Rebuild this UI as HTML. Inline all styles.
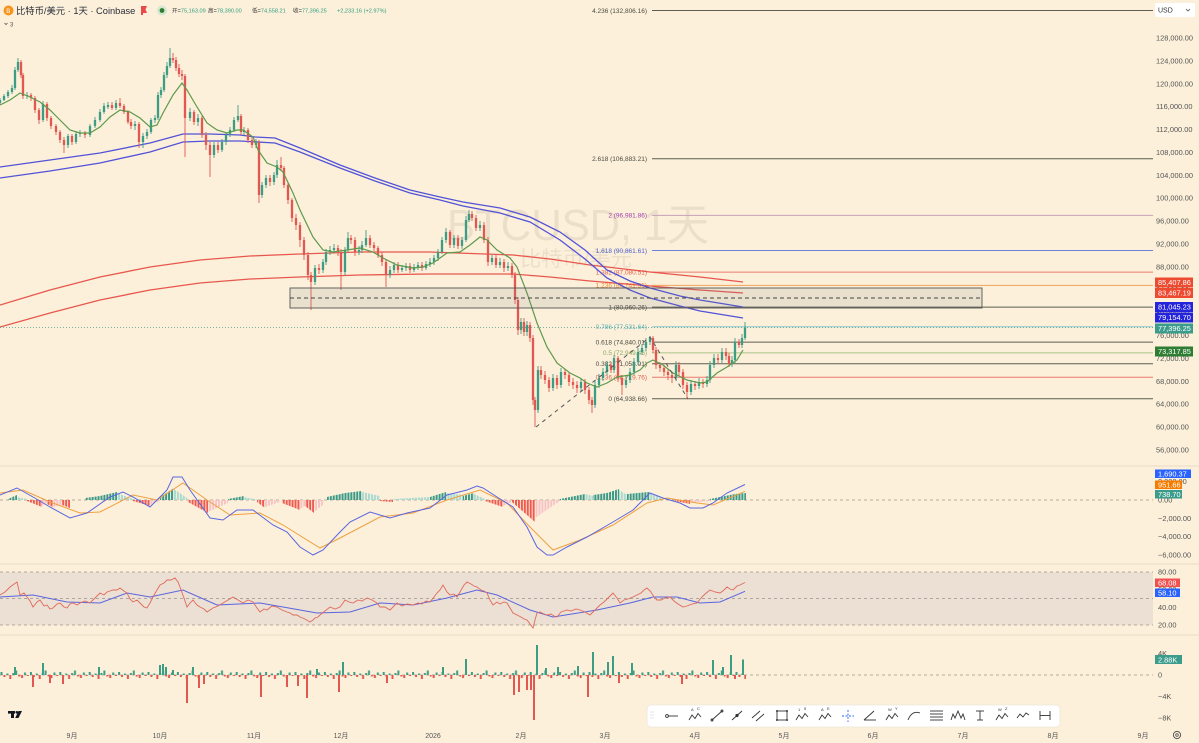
<!DOCTYPE html>
<html><head><meta charset="utf-8">
<style>
html,body{margin:0;padding:0;background:#fcf0da;overflow:hidden;}
svg{display:block;}
text{font-family:"Liberation Sans","Noto Sans CJK SC",sans-serif;}
</style></head>
<body>
<svg width="1199" height="743" viewBox="0 0 1199 743" xmlns="http://www.w3.org/2000/svg">
<defs>
<pattern id="pDT" patternUnits="userSpaceOnUse" x="0.5" y="0" width="2.94" height="100"><rect width="2" height="100" fill="#3a9a88"/></pattern>
<pattern id="pLT" patternUnits="userSpaceOnUse" x="0.5" y="0" width="2.94" height="100"><rect width="2" height="100" fill="#a9d9d1"/></pattern>
<pattern id="pR" patternUnits="userSpaceOnUse" x="0.5" y="0" width="2.94" height="100"><rect width="2" height="100" fill="#ee5a50"/></pattern>
<pattern id="pP" patternUnits="userSpaceOnUse" x="0.5" y="0" width="2.94" height="100"><rect width="2" height="100" fill="#f7c4c6"/></pattern>
<pattern id="pV" patternUnits="userSpaceOnUse" x="0.5" y="665" width="29.4" height="20">
<rect x="0" y="7" width="2" height="3" fill="#3d9c84"/>
<rect x="2.94" y="10" width="2" height="2" fill="#e2574f"/>
<rect x="5.88" y="8.5" width="2" height="1.5" fill="#3d9c84"/>
<rect x="8.82" y="10" width="2" height="4" fill="#e2574f"/>
<rect x="11.76" y="8" width="2" height="2" fill="#3d9c84"/>
<rect x="14.7" y="5.5" width="2" height="4.5" fill="#3d9c84"/>
<rect x="17.64" y="10" width="2" height="1.5" fill="#e2574f"/>
<rect x="20.58" y="10" width="2" height="3" fill="#e2574f"/>
<rect x="23.52" y="7.5" width="2" height="2.5" fill="#3d9c84"/>
<rect x="26.46" y="10" width="2" height="1" fill="#e2574f"/>
</pattern>
</defs>
<rect width="1199" height="743" fill="#fcf0da"/>
<!-- pane separators -->
<g stroke="#e8dcc6" stroke-width="1">
<line x1="0" y1="466" x2="1199" y2="466"/>
<line x1="0" y1="564" x2="1199" y2="564"/>
<line x1="0" y1="635" x2="1199" y2="635"/>
</g>
<!-- RSI band -->
<rect x="0" y="572" width="1153" height="53" fill="#ecdfd4"/>
<g stroke="#9a948a" stroke-width="0.7" stroke-dasharray="3,3" fill="none">
<line x1="0" y1="572" x2="1153" y2="572"/>
<line x1="0" y1="598.5" x2="1153" y2="598.5"/>
<line x1="0" y1="625" x2="1153" y2="625"/>
<line x1="0" y1="500" x2="1153" y2="500"/>
<line x1="0" y1="675" x2="1153" y2="675"/>
</g>
<!-- watermark -->
<text x="447" y="240" font-size="44" fill="#6a5a40" fill-opacity="0.11" textLength="262" lengthAdjust="spacingAndGlyphs">BTCUSD, 1天</text>
<text x="520" y="266" font-size="21" fill="#6a5a40" fill-opacity="0.11" textLength="112" lengthAdjust="spacingAndGlyphs">比特币/美元</text>

<!-- fib lines -->
<g stroke-width="1" fill="none">
<line x1="652" y1="10.5" x2="1153" y2="10.5" stroke="#5d5d50"/>
<line x1="652" y1="158.8" x2="1153" y2="158.8" stroke="#5d5d50"/>
<line x1="652" y1="215.4" x2="1153" y2="215.4" stroke="#c6a3b8"/>
<line x1="652" y1="250.5" x2="1153" y2="250.5" stroke="#6b80d8"/>
<line x1="652" y1="272.1" x2="1153" y2="272.1" stroke="#ea7b6e"/>
<line x1="652" y1="285.4" x2="1153" y2="285.4" stroke="#f3a25a"/>
<line x1="652" y1="307.1" x2="1153" y2="307.1" stroke="#5d5d50"/>
<line x1="652" y1="326.7" x2="1153" y2="326.7" stroke="#8cc8cc"/>
<line x1="652" y1="342.1" x2="1153" y2="342.1" stroke="#5d5d50"/>
<line x1="652" y1="352.9" x2="1153" y2="352.9" stroke="#a9c488"/>
<line x1="652" y1="363.7" x2="1153" y2="363.7" stroke="#5d5d50"/>
<line x1="652" y1="377.2" x2="1153" y2="377.2" stroke="#ea7b6e"/>
<line x1="652" y1="398.8" x2="1153" y2="398.8" stroke="#5d5d50"/>
</g>
<g font-size="6.5" text-anchor="end">
<text x="647" y="12.8" fill="#4a4a40">4.236 (132,806.16)</text>
<text x="647" y="161.1" fill="#4a4a40">2.618 (106,883.21)</text>
<text x="647" y="217.7" fill="#9c3fae">2 (96,981.86)</text>
<text x="647" y="252.8" fill="#4a5fd0">1.618 (90,861.61)</text>
<text x="647" y="274.4" fill="#e06050">1.382 (87,080.51)</text>
<text x="647" y="287.7" fill="#f09030">1.236 (84,741.36)</text>
<text x="647" y="309.4" fill="#4a4a40">1 (80,960.26)</text>
<text x="647" y="329" fill="#5ab0b8">0.786 (77,531.64)</text>
<text x="647" y="344.4" fill="#4a4a40">0.618 (74,840.01)</text>
<text x="647" y="355.2" fill="#8aa860">0.5 (72,949.46)</text>
<text x="647" y="366" fill="#4a4a40">0.382 (71,058.91)</text>
<text x="647" y="379.5" fill="#e06050">0.236 (68,719.76)</text>
<text x="647" y="401.1" fill="#4a4a40">0 (64,938.66)</text>
</g>

<!-- moving averages -->
<g fill="none" stroke-width="1.3">
<polyline stroke="#e8574e" points="0,305 50,290 100,277 150,267 200,260 250,256 300,254 360,252 430,252 513,255 550,259 590,265 650,272 700,277 743,282"/>
<polyline stroke="#e8574e" points="0,327 50,313 100,300 150,290 200,283 250,279 300,277 360,275 430,274 513,274 550,277 590,281 650,286 700,290 743,293"/>
<polyline stroke="#5252d8" points="0,167 50,160 100,153 150,143 183,134 210,134 240,135 255,137 275,138 300,148 340,165 375,178 410,190 440,197 463,202 500,208 530,217 560,232 585,250 607,270 630,281 650,288 680,296 700,300 743,307"/>
<polyline stroke="#5252d8" points="0,178 50,171 100,163 150,152 183,142 210,141 240,141 275,143 300,152 340,168 375,181 410,193 440,200 463,206 500,213 530,222 560,240 585,259 607,278 630,290 650,298 680,306 700,311 743,318"/>
</g>

<!-- candles -->
<g fill="none">
<path stroke="#3d9c84" stroke-width="0.9" d="M0 98V105M4 94V101M8 90V98M12 85V94M15 67V90M18 58V72M27 92V99M43 101V122M68 134V148M76 131V144M80 130V137M90 124V137M95 117V128M100 109V122M104 103V114M108 102V109M116 100V110M135 121V130M143 133V148M147 129V139M151 118V134M155 115V123M158 92V120M161 87V98M164 72V92M167 62V78M170 48V68M190 108V121M198 114V126M214 142V158M222 139V152M226 132V145M230 127V137M234 117V132M238 105V122M244 127V135M256 139V148M262 182V198M266 175V188M274 172V185M277 160V178M315 265V285M323 259V273M326 249V265M330 246V255M334 244V253M345 247V275M348 232V252M359 246V255M362 241V253M366 230V247M390 266V278M394 262V273M402 265V272M406 263V271M414 264V272M418 262V270M426 261V270M430 258V267M434 255V265M438 249V261M442 237V254M446 228V243M454 235V248M462 237V249M466 216V242M469 210V222M480 221V231M492 255V265M500 258V268M508 262V271M521 318V334M527 321V336M538 366V413M553 374V391M561 368V388M581 378V391M595 381V408M599 374V388M603 368V381M607 361V375M614 355V373M626 376V388M630 368V383M634 358V375M638 348V365M642 344V355M646 338V351M650 336V345M676 361V381M691 380V395M699 378V389M707 376V387M710 361V383M714 354V368M722 348V363M732 356V367M735 338V363M742 334V348M745 322V340"/>
<path stroke="#3d9c84" stroke-width="2.3" d="M0 103V100M4 100V96M8 96V92M12 92V88M15 88V70M18 70V62M27 96V95M43 120V104M68 145V136M76 142V134M80 134V133M90 135V126M95 126V120M100 120V112M104 112V106M108 107V105M116 108V103M135 126V124M143 142V136M147 136V132M151 132V120M155 120V118M158 118V95M161 95V90M164 90V75M167 75V66M170 66V58M190 118V112M198 122V118M214 155V145M222 150V142M226 142V135M230 135V130M234 130V120M238 120V116M244 132V130M256 145V142M262 195V185M266 185V178M274 182V175M277 175V165M315 282V268M323 270V262M326 262V252M330 252V250M334 250V248M345 272V250M348 250V238M359 252V250M362 250V245M366 245V238M390 275V270M394 270V265M402 270V268M406 268V266M414 270V267M418 267V265M426 268V264M430 264V262M434 262V258M438 258V252M442 252V240M446 240V232M454 245V238M462 246V240M466 240V220M469 220V214M480 228V225M492 262V258M500 265V262M508 268V266M521 330V322M527 332V325M538 410V370M553 388V378M561 385V372M581 388V382M595 405V385M599 385V378M603 378V372M607 372V365M614 370V358M626 385V380M630 380V372M634 372V362M638 362V352M642 352V348M646 348V342M650 342V338M676 378V365M691 392V384M699 386V382M707 384V380M710 380V365M714 365V358M722 360V352M732 364V360M735 360V342M742 345V338M745 338V327.5"/>
<path stroke="#e2574f" stroke-width="0.9" d="M21 60V78M23 73V99M31 93V101M35 96V113M39 108V124M47 102V121M51 116V129M56 124V135M60 130V143M64 137V153M72 134V145M85 131V138M112 102V110M120 98V108M124 104V114M128 110V124M131 119V129M139 122V148M173 53V63M176 57V71M179 64V77M182 70V80M185 74V157M194 110V125M202 116V138M206 132V150M210 142V177M218 142V153M241 114V135M248 128V143M252 137V148M259 140V203M270 175V186M281 157V171M284 166V188M288 183V204M292 198V222M296 214V230M300 222V247M304 237V260M308 252V280M311 272V310M319 264V274M338 245V256M341 249V290M351 235V244M355 237V256M370 235V248M374 242V251M378 246V258M382 252V266M386 260V287M398 262V273M410 263V273M422 262V271M450 230V248M458 235V249M472 211V221M476 215V231M484 222V243M488 237V266M496 255V268M504 259V272M512 263V278M515 272V304M518 297V335M524 318V336M530 322V342M533 335V405M535 397V427M541 366V379M545 371V384M549 377V392M557 375V389M565 369V379M569 372V386M573 378V389M577 381V393M585 379V394M589 387V404M592 397V413M611 362V373M618 356V382M622 375V395M653 336V353M656 347V369M660 362V372M664 365V376M668 369V380M672 372V383M679 362V376M683 369V389M687 382V399M695 381V390M703 379V388M718 354V364M726 348V360M729 353V367M739 339V348"/>
<path stroke="#e2574f" stroke-width="2.3" d="M21 62V75M23 75V96M31 95V98M35 98V110M39 110V120M47 104V118M51 118V126M56 126V132M60 132V140M64 140V145M72 136V142M85 133V135M112 105V108M120 103V106M124 106V112M128 112V122M131 122V126M139 124V142M173 58V60M176 60V68M179 68V74M182 74V76M185 76V118M194 112V122M202 118V135M206 135V145M210 145V155M218 145V150M241 116V132M248 130V140M252 140V145M259 142V195M270 178V182M281 165V168M284 168V185M288 185V200M292 200V218M296 218V225M300 225V240M304 240V255M308 255V275M311 275V282M319 268V270M338 248V252M341 252V272M351 238V240M355 240V252M370 238V245M374 245V248M378 248V255M382 255V262M386 262V275M398 265V270M410 266V270M422 265V268M450 232V245M458 238V246M472 214V218M476 218V228M484 225V240M488 240V262M496 258V265M504 262V268M512 266V275M515 275V300M518 300V330M524 322V332M530 325V338M533 338V400M535 400V410M541 370V375M545 375V380M549 380V388M557 378V385M565 372V375M569 375V382M573 382V385M577 385V388M585 382V390M589 390V400M592 400V405M611 365V370M618 358V378M622 378V385M653 338V350M656 350V365M660 365V368M664 368V372M668 372V375M672 375V378M679 365V372M683 372V385M687 385V392M695 384V386M703 382V384M718 358V360M726 352V356M729 356V364M739 342V345"/>
</g>
<!-- short EMA -->
<polyline fill="none" stroke="#5e9a4c" stroke-width="1.2" points="0,105 10,100 20,93 30,97 40,102 50,110 60,120 70,130 80,133 90,133 100,127 110,117 120,110 130,112 140,118 150,127 157,125 163,113 173,95 182,83 187,90 197,107 207,123 217,130 227,133 237,130 243,130 253,137 258,150 267,163 277,167 283,172 293,193 300,210 313,237 323,250 333,252 347,250 360,248 373,252 383,258 397,265 413,268 423,267 433,263 447,253 460,252 470,245 480,237 487,240 497,250 510,258 517,267 527,293 537,323 547,347 557,363 570,373 580,378 587,383 597,387 607,383 617,377 630,375 640,370 647,363 653,360 663,365 673,373 687,380 700,383 707,382 717,373 727,367 737,360 743,350"/>

<!-- rectangle zone -->
<rect x="290" y="288" width="692" height="20" fill="#7d8590" fill-opacity="0.15" stroke="#555" stroke-width="0.9"/>
<line x1="290" y1="298" x2="982" y2="298" stroke="#444" stroke-width="0.9" stroke-dasharray="4,3"/>
<!-- dashed trend -->
<polyline points="536,427 650,337 688,399" fill="none" stroke="#555" stroke-width="1" stroke-dasharray="4,4"/>
<!-- last price line -->
<line x1="0" y1="327.5" x2="1153" y2="327.5" stroke="#4a9a8e" stroke-width="0.8" stroke-dasharray="1,2"/>

<!-- MACD histogram -->
<g fill="url(#pDT)">
<polygon points="8,500 8,499 17,495 17,500"/>
<polygon points="85,500 85,498 100,496 117,492 117,500"/>
<polygon points="160,500 160,497 174,488 174,500"/>
<polygon points="228,500 228,499 244,496 244,500"/>
<polygon points="327,500 327,497 345,493 362,491 362,500"/>
<polygon points="430,500 430,497 446,492 446,500"/>
<polygon points="463,500 463,496 474,493 474,500"/>
<polygon points="560,500 560,499 585,494 585,500"/>
<polygon points="593,500 593,495 607,493 619,489 619,500"/>
<polygon points="627,500 627,494 649,492 649,500"/>
<polygon points="710,500 710,499 735,494 746,493 746,500"/>
</g>
<g fill="url(#pLT)">
<polygon points="17,500 17,497 27,499 27,500"/>
<polygon points="117,500 117,493 133,499 133,500"/>
<polygon points="174,500 174,489 187,498 187,500"/>
<polygon points="244,500 244,497 257,499.5 257,500"/>
<polygon points="362,500 362,492 380,496 380,500"/>
<polygon points="393,500 393,499 410,498 430,497 430,500"/>
<polygon points="446,500 446,493 463,495 463,500"/>
<polygon points="474,500 474,494 485,499 485,500"/>
<polygon points="585,500 585,494 593,496 593,500"/>
<polygon points="619,500 619,490 627,495 627,500"/>
<polygon points="649,500 649,492 663,499 663,500"/>
</g>
<g fill="url(#pR)">
<polygon points="27,500 27,501 42,507 42,500"/>
<polygon points="47,500 47,504 53,507 53,500"/>
<polygon points="62,500 62,505 70,508 70,500"/>
<polygon points="133,500 133,501 150,506 150,500"/>
<polygon points="188,500 188,502 208,513 208,500"/>
<polygon points="257,500 257,502 265,508 265,500"/>
<polygon points="282,500 282,503 300,510 300,500"/>
<polygon points="305,500 305,506 314,513 314,500"/>
<polygon points="380,500 380,501 393,502 393,500"/>
<polygon points="485,500 485,501 503,507 503,500"/>
<polygon points="512,500 512,502 535,522 535,500"/>
<polygon points="675,500 675,501 690,504 690,500"/>
</g>
<g fill="url(#pP)">
<polygon points="42,500 42,505 47,503 47,500"/>
<polygon points="53,500 53,507 62,505 62,500"/>
<polygon points="150,500 150,505 160,501 160,500"/>
<polygon points="208,500 208,512 228,503 228,500"/>
<polygon points="265,500 265,507 280,502 280,500"/>
<polygon points="300,500 300,509 305,506 305,500"/>
<polygon points="314,500 314,512 324,504 324,500"/>
<polygon points="503,500 503,506 512,502 512,500"/>
<polygon points="535,500 535,518 560,501 560,500"/>
<polygon points="690,500 690,503 710,501 710,500"/>
</g>
<!-- MACD lines -->
<polyline fill="none" stroke="#f0a040" stroke-width="1" points="0,493 23,490 50,502 80,513 100,512 133,495 157,500 183,483 207,500 230,515 260,513 283,525 320,548 340,538 380,517 413,513 447,500 480,490 507,503 530,527 553,550 580,540 613,525 647,503 667,498 697,503 713,505 745,491.3"/>
<polyline fill="none" stroke="#5a66e0" stroke-width="1" points="0,495 17,488 33,497 50,507 70,518 87,513 110,497 123,492 133,497 150,507 167,490 173,477 182,477 190,490 210,518 223,520 237,510 253,510 273,525 287,532 300,547 313,555 323,550 340,532 350,522 370,512 380,515 390,518 407,513 430,508 447,495 467,490 477,486 483,488 497,497 513,507 527,527 537,547 547,555 553,555 567,547 587,537 613,522 633,510 650,493 663,498 680,503 690,508 703,508 713,503 727,493 745,484.5"/>

<!-- RSI -->
<polyline fill="none" stroke="#5a66e0" stroke-width="1" points="0,597 33,595 67,602 100,603 127,593 150,597 183,590 217,605 260,603 283,607 317,613 350,612 380,603 413,605 447,598 477,590 497,595 530,610 553,617 597,610 630,603 653,597 677,597 700,603 720,602 745,591.3"/>
<polyline fill="none" stroke="#e06a5a" stroke-width="0.9" points="0,595 5,592 10,587 17,582 20,595 24,593 27,597 30,601 33,607 37,602 40,600 44,606 47,605 50,609 53,608 57,604 60,603 64,607 67,608 70,604 73,603 77,605 80,603 85,601 90,603 95,598 100,593 104,595 107,592 110,591 113,590 117,590 120,588 124,591 127,593 130,599 133,602 137,600 140,603 144,607 147,608 150,603 153,597 157,590 160,585 164,583 167,580 171,580 175,578 178,582 180,587 184,598 187,607 190,603 193,600 197,605 200,607 204,609 207,612 210,610 213,608 218,606 223,603 228,600 233,597 238,600 243,603 248,600 253,602 257,608 260,612 264,609 267,610 272,606 277,607 282,610 287,612 290,613 293,615 297,615 300,617 305,619 310,622 313,620 315,618 318,617 320,615 325,611 330,607 335,609 340,607 343,603 345,600 349,602 353,603 358,600 362,601 367,598 372,600 377,603 380,607 385,607 390,610 394,606 397,603 402,606 407,604 413,605 418,603 422,604 426,601 430,602 434,597 437,593 440,590 443,585 447,592 450,595 454,594 457,597 460,592 464,585 467,582 471,584 474,586 477,587 481,590 484,591 487,593 490,600 493,605 497,602 500,604 504,602 507,603 510,608 513,613 517,615 521,617 524,619 527,620 530,624 533,628 535,620 537,613 540,612 544,614 547,615 551,614 554,616 557,617 561,612 564,611 567,610 571,611 576,609 580,610 585,612 590,615 594,611 597,608 600,605 604,602 607,599 610,596 613,593 617,598 620,603 624,600 628,599 633,597 637,595 641,593 644,590 647,588 651,592 654,597 657,600 661,600 665,598 670,597 674,601 678,604 683,607 687,606 692,604 697,603 701,598 705,594 710,590 715,592 720,593 724,590 727,587 730,589 733,590 737,586 740,585 745,582.5"/>

<!-- Volume delta -->
<rect x="0" y="665" width="746" height="20" fill="url(#pV)"/>
<path fill="none" stroke="#3d9c84" stroke-width="2" d="M15 675V667M43 675V663M99 675V667M160 675V665M163 675V664M166 675V667M173 675V670M193 675V667M317 675V669M343 675V662M443 675V667M466 675V659M537 675V645M546 675V668M558 675V667M578 675V666M593 675V652M608 675V662M613 675V656M632 675V663M713 675V660M723 675V667M731 675V655M743 675V659.5"/>
<path fill="none" stroke="#e2574f" stroke-width="2" d="M33 675V687M50 675V683M63 675V684M187 675V703M199 675V688M204 675V684M261 675V697M287 675V687M298 675V686M307 675V698M339 675V692M387 675V683M514 675V695M519 675V692M527 675V690M531 675V690M534 675V720M588 675V697M619 675V683M682 675V684M735 675V679"/>

<!-- right axis labels -->
<g font-size="7.4" fill="#555">
<text x="1156" y="40.5">128,000.00</text>
<text x="1156" y="63.4">124,000.00</text>
<text x="1156" y="86.3">120,000.00</text>
<text x="1156" y="109.2">116,000.00</text>
<text x="1156" y="132">112,000.00</text>
<text x="1156" y="154.9">108,000.00</text>
<text x="1156" y="177.8">104,000.00</text>
<text x="1156" y="200.7">100,000.00</text>
<text x="1156" y="223.6">96,000.00</text>
<text x="1156" y="246.5">92,000.00</text>
<text x="1156" y="269.4">88,000.00</text>
<text x="1156" y="292.3">84,000.00</text>
<text x="1156" y="315.2">80,000.00</text>
<text x="1156" y="338">76,000.00</text>
<text x="1156" y="360.9">72,000.00</text>
<text x="1156" y="383.8">68,000.00</text>
<text x="1156" y="406.7">64,000.00</text>
<text x="1156" y="429.6">60,000.00</text>
<text x="1156" y="452.5">56,000.00</text>
<text x="1158" y="484.2">2,000.00</text>
<text x="1158" y="502.5">0.00</text>
<text x="1158" y="520.8">−2,000.00</text>
<text x="1158" y="539.1">−4,000.00</text>
<text x="1158" y="557.4">−6,000.00</text>
<text x="1158" y="574.5">80.00</text>
<text x="1158" y="592.2">60.00</text>
<text x="1158" y="609.8">40.00</text>
<text x="1158" y="627.5">20.00</text>
<text x="1158" y="656">4K</text>
<text x="1158" y="677.5">0</text>
<text x="1158" y="699">−4K</text>
<text x="1158" y="720.5">−8K</text>
</g>
<!-- tags -->
<g font-size="7.4" fill="#fff">
<rect x="1155" y="277.5" width="38" height="10" fill="#ee4a30"/><text x="1158" y="285.2">85,407.86</text>
<rect x="1155" y="288" width="38" height="10" fill="#ee4a30"/><text x="1158" y="295.7">83,467.19</text>
<rect x="1155" y="302" width="38" height="10" fill="#2424dc"/><text x="1158" y="309.7">81,045.23</text>
<rect x="1155" y="312.5" width="38" height="10" fill="#2424dc"/><text x="1158" y="320.2">79,154.70</text>
<rect x="1155" y="323.5" width="38" height="10" fill="#3c9c8c"/><text x="1158" y="331.2">77,396.25</text>
<rect x="1155" y="346.5" width="38" height="10" fill="#2e7d32"/><text x="1158" y="354.2">73,317.85</text>
<rect x="1155" y="469.5" width="36" height="8.5" fill="#2962ff"/><text x="1158" y="476.5">1,690.37</text>
<rect x="1155" y="480.5" width="27" height="8.5" fill="#f57c00"/><text x="1158" y="487.5">951.66</text>
<rect x="1155" y="490" width="27" height="8.5" fill="#3c9c8c"/><text x="1158" y="497">738.70</text>
<rect x="1155" y="578.5" width="25" height="8.5" fill="#f05050"/><text x="1158" y="585.5">68.08</text>
<rect x="1155" y="588.5" width="25" height="8.5" fill="#2962ff"/><text x="1158" y="595.5">58.10</text>
<rect x="1155" y="655" width="27" height="9" fill="#3c9c8c"/><text x="1158" y="662.3">2.88K</text>
</g>
<!-- USD box -->
<rect x="1155" y="3" width="40" height="14" rx="2" fill="#ffffff"/>
<text x="1158" y="12.6" font-size="7" fill="#333">USD</text>
<polyline points="1186,9 1188,11 1190,9" fill="none" stroke="#555" stroke-width="0.8"/>

<!-- x axis -->
<g font-size="7" fill="#555" text-anchor="middle">
<text x="72" y="738">9月</text>
<text x="160" y="738">10月</text>
<text x="254" y="738">11月</text>
<text x="341" y="738">12月</text>
<text x="433" y="738">2026</text>
<text x="521" y="738">2月</text>
<text x="605" y="738">3月</text>
<text x="695" y="738">4月</text>
<text x="784" y="738">5月</text>
<text x="873" y="738">6月</text>
<text x="963" y="738">7月</text>
<text x="1053" y="738">8月</text>
<text x="1143" y="738">9月</text>
</g>
<circle cx="1177" cy="735" r="3.6" fill="none" stroke="#555" stroke-width="1"/>
<circle cx="1177" cy="735" r="1.3" fill="none" stroke="#555" stroke-width="0.8"/>

<!-- TV logo -->
<g fill="#131722">
<rect x="8" y="711" width="7" height="2.6"/>
<rect x="11" y="711" width="3" height="7"/>
<circle cx="16.8" cy="712.3" r="1.3"/>
<polygon points="18.5,711 22,711 18.5,718 15.2,718"/>
</g>

<!-- header -->
<circle cx="8.5" cy="10.5" r="5" fill="#f7931a"/>
<text x="6.3" y="13" font-size="6" fill="#fff">B</text>
<text x="16" y="14" font-size="9.3" fill="#2a2e39">比特币/美元 · 1天 · Coinbase</text>
<polygon points="141,6 147,6 145.5,9.5 147,13 143,13 143,15 141,15" fill="#e84a4a"/>
<circle cx="162" cy="10.5" r="5" fill="#d4e8d0"/>
<circle cx="162" cy="10.5" r="2.4" fill="#2e7d32"/>
<g font-size="5.6">
<text x="172" y="12.5"><tspan fill="#333">开=</tspan><tspan fill="#2f9e80">75,163.09</tspan></text>
<text x="208" y="12.5"><tspan fill="#333">高=</tspan><tspan fill="#2f9e80">78,390.00</tspan></text>
<text x="252" y="12.5"><tspan fill="#333">低=</tspan><tspan fill="#2f9e80">74,558.21</tspan></text>
<text x="293" y="12.5"><tspan fill="#333">收=</tspan><tspan fill="#2f9e80">77,396.25</tspan></text>
<text x="337" y="12.5" fill="#2f9e80">+2,233.16 (+2.97%)</text>
</g>
<polyline points="4.5,23 6,24.5 7.5,23" fill="none" stroke="#555" stroke-width="0.8"/>
<text x="10" y="26.5" font-size="6" fill="#555">3</text>

<!-- toolbar -->
<rect x="647" y="705" width="413" height="22" rx="4" fill="#ffffff" stroke="#ece6dc" stroke-width="0.8"/>
<g fill="#bbb"><circle cx="651" cy="712" r="0.5"/><circle cx="653" cy="712" r="0.5"/><circle cx="651" cy="715" r="0.5"/><circle cx="653" cy="715" r="0.5"/><circle cx="651" cy="718" r="0.5"/><circle cx="653" cy="718" r="0.5"/></g>
<g fill="none" stroke="#333" stroke-width="0.9">
<circle cx="667" cy="716" r="1.4"/><line x1="668.5" y1="716" x2="678" y2="716"/>
<polyline points="689,720 692,715 695,718.5 698,713.5 701,717"/>
<line x1="712" y1="720" x2="722" y2="711"/><circle cx="712" cy="720" r="1"/><circle cx="722" cy="711" r="1"/>
<line x1="732" y1="720" x2="742" y2="711"/>
<line x1="752" y1="718" x2="760" y2="711"/><line x1="756" y1="721" x2="764" y2="714"/>
<rect x="777" y="711" width="10" height="9"/>
<polyline points="796,720 799,715 802,718.5 805,713.5 808,717"/>
<polyline points="819,720 822,715 825,718.5 828,713.5 831,717"/>
<line x1="864" y1="720" x2="876" y2="720"/><line x1="864" y1="720" x2="874" y2="711"/>
<polyline points="886,720 889,715 892,718.5 895,713.5 898,717"/>
<path d="M908,720 Q912,710 920,713"/>
<line x1="930" y1="711" x2="943" y2="711"/><line x1="930" y1="714" x2="943" y2="714"/><line x1="930" y1="717" x2="943" y2="717"/><line x1="930" y1="720" x2="943" y2="720"/>
<polyline points="951,720 953,714 955,718 958,711 961,718 963,714 965,720"/>
<line x1="980" y1="711" x2="980" y2="720"/><line x1="976" y1="711" x2="984" y2="711"/><line x1="977" y1="720" x2="983" y2="720"/>
<polyline points="996,720 999,715 1002,718.5 1005,713.5 1008,717"/>
<polyline points="1017,718 1020,714 1023,717 1026,713 1029,715"/>
<line x1="1040" y1="711" x2="1040" y2="720"/><line x1="1050" y1="711" x2="1050" y2="720"/><line x1="1040" y1="715.5" x2="1050" y2="715.5"/>
</g>
<g fill="#333"><circle cx="737" cy="715.5" r="1.6"/><circle cx="777" cy="711" r="1"/><circle cx="787" cy="711" r="1"/><circle cx="777" cy="720" r="1"/><circle cx="787" cy="720" r="1"/></g>
<g font-size="4" fill="#333">
<text x="691" y="711">A</text><text x="697" y="710">C</text>
<text x="798" y="711">1</text><text x="804" y="710">5</text>
<text x="821" y="711">A</text><text x="827" y="710">E</text>
<text x="888" y="711">W</text><text x="895" y="710">Y</text>
<text x="998" y="711">W</text><text x="1005" y="710">Z</text>
</g>
<g stroke="#2962ff" stroke-width="0.9" stroke-dasharray="2,1.5">
<line x1="842" y1="716" x2="854" y2="716"/><line x1="848" y1="710" x2="848" y2="722"/>
</g>
</svg>
</body></html>
